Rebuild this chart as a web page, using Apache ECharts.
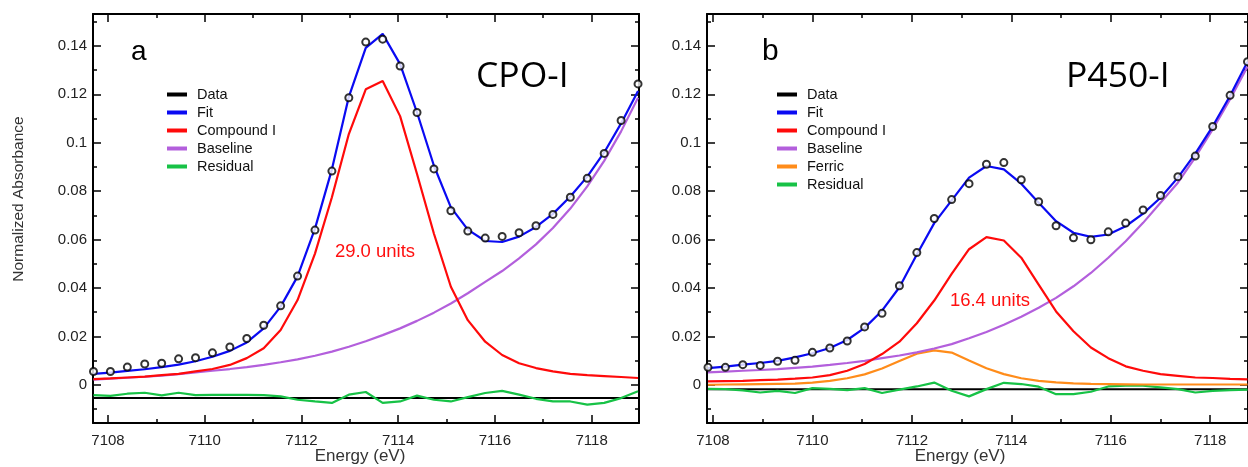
<!DOCTYPE html>
<html>
<head>
<meta charset="utf-8">
<script src="https://cdn.jsdelivr.net/npm/echarts@6/dist/echarts.min.js"></script>
<style>
  html, body { margin: 0; padding: 0; background: #fff; }
  #chart { width: 1248px; height: 467px; }
</style>
</head>
<body>
<div id="chart"></div>
<script>
// panel a: CPO-I
const energyA = [7107.70, 7108.05, 7108.40, 7108.76, 7109.11, 7109.46, 7109.81, 7110.16, 7110.52, 7110.87, 7111.22,
  7111.57, 7111.92, 7112.28, 7112.63, 7112.98, 7113.33, 7113.68, 7114.04, 7114.39, 7114.74, 7115.09, 7115.44,
  7115.80, 7116.15, 7116.50, 7116.85, 7117.20, 7117.56, 7117.91, 7118.26, 7118.61, 7118.96]
const dataA = [0.0055, 0.0055, 0.0073, 0.0086, 0.0089, 0.0107, 0.0112, 0.0132, 0.0156, 0.0191, 0.0246, 0.0326,
  0.0449, 0.0639, 0.0883, 0.1186, 0.1416, 0.1428, 0.1317, 0.1125, 0.0892, 0.0719, 0.0635, 0.0606, 0.0613, 0.0628,
  0.0657, 0.0704, 0.0775, 0.0853, 0.0956, 0.1092, 0.1243]
const fitA = [0.0045, 0.0050, 0.0057, 0.0064, 0.0073, 0.0083, 0.0097, 0.0116, 0.0140, 0.0175, 0.0233, 0.0323,
  0.0448, 0.0645, 0.0890, 0.1190, 0.1392, 0.1450, 0.1325, 0.1125, 0.0905, 0.0733, 0.0641, 0.0594, 0.0590, 0.0612,
  0.0652, 0.0706, 0.0778, 0.0860, 0.0960, 0.1080, 0.1214]
const compIA = [0.0023, 0.0026, 0.0030, 0.0034, 0.0040, 0.0045, 0.0055, 0.0065, 0.0082, 0.0110, 0.0151, 0.0226,
  0.0350, 0.0542, 0.0775, 0.1036, 0.1221, 0.1255, 0.1110, 0.0871, 0.0624, 0.0405, 0.0267, 0.0178, 0.0123, 0.0089,
  0.0069, 0.0055, 0.0045, 0.0040, 0.0036, 0.0032, 0.0028]
const baseA = [0.0021, 0.0025, 0.0029, 0.0033, 0.0038, 0.0044, 0.0051, 0.0058, 0.0065, 0.0073, 0.0082, 0.0093,
  0.0105, 0.0120, 0.0137, 0.0157, 0.0180, 0.0205, 0.0233, 0.0264, 0.0298, 0.0336, 0.0378, 0.0425, 0.0470, 0.0522,
  0.0580, 0.0648, 0.0728, 0.0820, 0.0925, 0.1047, 0.1186]
const residA = [-0.0043, -0.0046, -0.0037, -0.0033, -0.0044, -0.0033, -0.0043, -0.0042, -0.0042, -0.0042, -0.0043,
  -0.0048, -0.0062, -0.0069, -0.0075, -0.0041, -0.0030, -0.0075, -0.0069, -0.0045, -0.0062, -0.0069, -0.0051,
  -0.0034, -0.0025, -0.0041, -0.0058, -0.0069, -0.0069, -0.0082, -0.0075, -0.0055, -0.0027]
const zeroA = -0.0055

// panel b: P450-I
const energyB = [7107.90, 7108.25, 7108.60, 7108.95, 7109.30, 7109.65, 7110.00, 7110.35, 7110.70, 7111.05, 7111.40,
  7111.75, 7112.10, 7112.45, 7112.80, 7113.15, 7113.50, 7113.85, 7114.20, 7114.55, 7114.90, 7115.25, 7115.60,
  7115.95, 7116.30, 7116.65, 7117.00, 7117.35, 7117.70, 7118.05, 7118.40, 7118.75]
const dataB = [0.0072, 0.0072, 0.0083, 0.0080, 0.0097, 0.0101, 0.0134, 0.0152, 0.0181, 0.0239, 0.0295, 0.0409,
  0.0546, 0.0687, 0.0765, 0.0831, 0.0911, 0.0918, 0.0847, 0.0756, 0.0657, 0.0607, 0.0599, 0.0632, 0.0668, 0.0722,
  0.0782, 0.0860, 0.0945, 0.1067, 0.1196, 0.1335]
const fitB = [0.0069, 0.0075, 0.0083, 0.0090, 0.0099, 0.0113, 0.0130, 0.0152, 0.0185, 0.0235, 0.0306, 0.0403,
  0.0538, 0.0668, 0.0762, 0.0856, 0.0904, 0.0890, 0.0831, 0.0752, 0.0676, 0.0628, 0.0611, 0.0621, 0.0655, 0.0707,
  0.0773, 0.0856, 0.0955, 0.1068, 0.1194, 0.1335]
const compIB = [0.0014, 0.0015, 0.0016, 0.0019, 0.0021, 0.0025, 0.0030, 0.0040, 0.0058, 0.0086, 0.0127, 0.0178,
  0.0254, 0.0348, 0.0458, 0.0560, 0.0610, 0.0596, 0.0525, 0.0414, 0.0303, 0.0221, 0.0154, 0.0110, 0.0076, 0.0058,
  0.0044, 0.0037, 0.0030, 0.0028, 0.0024, 0.0022]
const baseB = [0.0051, 0.0054, 0.0058, 0.0061, 0.0065, 0.0070, 0.0075, 0.0082, 0.0090, 0.0099, 0.0110, 0.0121,
  0.0134, 0.0150, 0.0168, 0.0192, 0.0218, 0.0248, 0.0281, 0.0318, 0.0359, 0.0407, 0.0462, 0.0525, 0.0593, 0.0669,
  0.0752, 0.0835, 0.0940, 0.1055, 0.1180, 0.1315]
const ferricB = [0.0000, 0.0001, 0.0002, 0.0003, 0.0004, 0.0005, 0.0009, 0.0016, 0.0027, 0.0043, 0.0067, 0.0098,
  0.0128, 0.0142, 0.0133, 0.0100, 0.0068, 0.0044, 0.0027, 0.0016, 0.0010, 0.0006, 0.0004, 0.0003, 0.0002, 0.0001,
  0.0001, 0.0001, 0.0001, 0.0001, 0.0001, 0.0001]
const residB = [-0.0017, -0.0018, -0.0023, -0.0032, -0.0025, -0.0034, -0.0014, -0.0017, -0.0022, -0.0014, -0.0034,
  -0.0020, -0.0007, 0.0009, -0.0025, -0.0048, -0.0018, 0.0008, 0.0003, -0.0008, -0.0039, -0.0039, -0.0029, -0.0007,
  -0.0004, -0.0004, -0.0011, -0.0018, -0.0032, -0.0025, -0.0022, -0.0020]
const zeroB = -0.0019

// ticks
const xMajor = [7108, 7110, 7112, 7114, 7116, 7118]
const xMinor = [7109, 7111, 7113, 7115, 7117]
const yMajor = [0, 0.02, 0.04, 0.06, 0.08, 0.1, 0.12, 0.14]
const yMinor = [-0.01, 0.01, 0.03, 0.05, 0.07, 0.09, 0.11, 0.13, 0.15]
const xRangeA = [7107.69, 7118.98]
const xRangeB = [7107.88, 7118.76]
const yRange = [-0.0158, 0.1532]

const FONT = '"Liberation Sans", Arial, Helvetica, sans-serif'
const C = { data: '#000', fit: '#0a0af2', comp: '#ff0a0a', base: '#b35fdc', ferric: '#ff8c1a', resid: '#17c246', zero: '#000' }

const pairs = (xs, ys) => xs.map((x, i) => [x, ys[i]])

function xAxesFor(g, range) {
  const base = { gridIndex: g, type: 'value', min: range[0], max: range[1], splitLine: { show: false } }
  const tick = (vals, len) => ({ show: true, inside: true, length: len, customValues: vals, lineStyle: { color: '#000', width: 1.5 } })
  return [
    { ...base, position: 'bottom', axisLine: { show: true, onZero: false, lineStyle: { color: '#000', width: 2 } },
      axisTick: tick(xMajor, 8),
      axisLabel: { show: true, customValues: xMajor, formatter: (v) => String(v), margin: 10, fontSize: 15, color: '#222', fontFamily: FONT } },
    { ...base, position: 'bottom', axisLine: { show: false, onZero: false }, axisTick: tick(xMinor, 4), axisLabel: { show: false } },
    { ...base, position: 'top', axisLine: { show: true, onZero: false, lineStyle: { color: '#000', width: 2 } }, axisTick: tick(xMajor, 8), axisLabel: { show: false } },
    { ...base, position: 'top', axisLine: { show: false, onZero: false }, axisTick: tick(xMinor, 4), axisLabel: { show: false } },
  ]
}

function yAxesFor(g) {
  const base = { gridIndex: g, type: 'value', min: yRange[0], max: yRange[1], splitLine: { show: false } }
  const tick = (vals, len) => ({ show: true, inside: true, length: len, customValues: vals, lineStyle: { color: '#000', width: 1.5 } })
  return [
    { ...base, position: 'left', axisLine: { show: true, onZero: false, lineStyle: { color: '#000', width: 2 } },
      axisTick: tick(yMajor, 8),
      axisLabel: { show: true, customValues: yMajor, formatter: (v) => String(+v.toFixed(2)), margin: 6, fontSize: 15, color: '#222', fontFamily: FONT } },
    { ...base, position: 'left', axisLine: { show: false, onZero: false }, axisTick: tick(yMinor, 4), axisLabel: { show: false } },
    { ...base, position: 'right', axisLine: { show: true, onZero: false, lineStyle: { color: '#000', width: 2 } }, axisTick: tick(yMajor, 8), axisLabel: { show: false } },
    { ...base, position: 'right', axisLine: { show: false, onZero: false }, axisTick: tick(yMinor, 4), axisLabel: { show: false } },
  ]
}

function lineSeries(name, g, xs, ys, color) {
  return {
    name, type: 'line', xAxisIndex: g * 4, yAxisIndex: g * 4, data: pairs(xs, ys),
    showSymbol: false, symbol: 'none', smooth: false, lineStyle: { color, width: 2.2 }, itemStyle: { color }, z: 3,
  }
}

function panelSeries(g, xs, range, sets) {
  const out = [
    { name: '', type: 'line', xAxisIndex: g * 4, yAxisIndex: g * 4, data: [[range[0], sets.zero], [range[1], sets.zero]],
      showSymbol: false, symbol: 'none', lineStyle: { color: C.zero, width: 2 }, z: 2 },
    lineSeries('Residual', g, xs, sets.resid, C.resid),
  ]
  if (sets.ferric) out.push(lineSeries('Ferric', g, xs, sets.ferric, C.ferric))
  out.push(lineSeries('Baseline', g, xs, sets.base, C.base))
  out.push(lineSeries('Compound I', g, xs, sets.comp, C.comp))
  out.push(lineSeries('Fit', g, xs, sets.fit, C.fit))
  out.push({
    name: 'Data', type: 'scatter', xAxisIndex: g * 4, yAxisIndex: g * 4, data: pairs(xs, sets.data),
    symbol: 'circle', symbolSize: 7, itemStyle: { color: '#fff', borderColor: '#000', borderWidth: 2 }, z: 5,
  })
  return out
}

const legendKey = { Data: 'data', Fit: 'fit', 'Compound I': 'comp', Baseline: 'base', Ferric: 'ferric', Residual: 'resid' }
function legendFor(left, names) {
  return {
    left, top: 82, orient: 'vertical', icon: 'rect', itemWidth: 20, itemHeight: 4, itemGap: 3.0,
    selectedMode: false,
    textStyle: { fontFamily: FONT, fontSize: 14.5, color: '#111', padding: [0, 0, 0, 5] },
    data: names.map((n) => ({ name: n, itemStyle: { color: C[legendKey[n]], borderWidth: 0, opacity: 1 } })),
  }
}

const txt = (text, x, y, size, opts = {}) => ({
  type: 'text', x, y, rotation: opts.rotation || 0,
  style: { text, fill: opts.color || '#000', font: `${opts.weight || 'normal'} ${size}px ${opts.family || FONT}`,
    textAlign: opts.align || 'left', textVerticalAlign: 'middle' },
  z: 10,
})

const chart = echarts.init(document.getElementById('chart'))
chart.setOption({
  animation: false,
  backgroundColor: '#fff',
  grid: [
    { left: 93, top: 14, width: 546, height: 409 },
    { left: 707, top: 14, width: 545, height: 409 },
  ],
  xAxis: [...xAxesFor(0, xRangeA), ...xAxesFor(1, xRangeB)],
  yAxis: [...yAxesFor(0), ...yAxesFor(1)],
  legend: [
    legendFor(162, ['Data', 'Fit', 'Compound I', 'Baseline', 'Residual']),
    legendFor(772, ['Data', 'Fit', 'Compound I', 'Baseline', 'Ferric', 'Residual']),
  ],
  series: [
    ...panelSeries(0, energyA, xRangeA, { data: dataA, fit: fitA, comp: compIA, base: baseA, resid: residA, zero: zeroA }),
    ...panelSeries(1, energyB, xRangeB, { data: dataB, fit: fitB, comp: compIB, base: baseB, ferric: ferricB, resid: residB, zero: zeroB }),
  ],
  graphic: [
    txt('a', 131, 52, 28),
    txt('b', 762, 52, 30),
    txt('CPO-I', 476, 77, 35.5, { family: '"Open Sans", "Noto Sans", sans-serif' }),
    txt('P450-I', 1066, 77, 35.5, { family: '"Open Sans", "Noto Sans", sans-serif' }),
    txt('29.0 units', 375, 252, 18.5, { color: '#ff1010', align: 'center' }),
    txt('16.4 units', 990, 301, 18.5, { color: '#ff1010', align: 'center' }),
    txt('Energy (eV)', 360, 456, 17, { color: '#333', align: 'center' }),
    txt('Energy (eV)', 960, 456, 17, { color: '#333', align: 'center' }),
    txt('Normalized Absorbance', 19, 199, 15.5, { color: '#333', align: 'center', rotation: Math.PI / 2 }),
  ],
})
</script>
</body>
</html>
